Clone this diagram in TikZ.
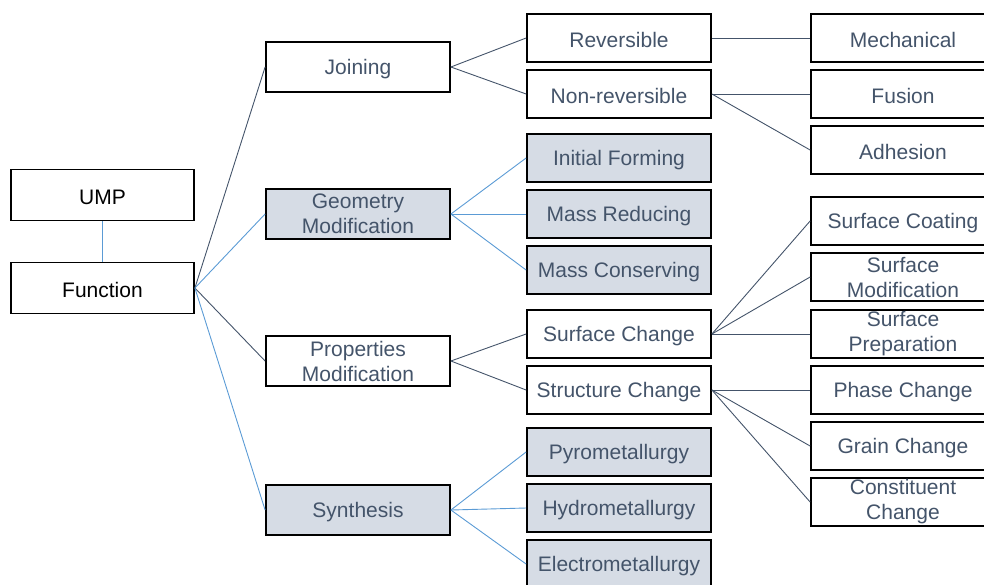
\documentclass[tikz,border=0pt]{standalone}
\usepackage{fontspec}
\setmainfont{Liberation Sans}
\definecolor{slate}{HTML}{44546A}
\definecolor{linkblue}{HTML}{5B9BD5}
\definecolor{boxgray}{HTML}{D6DCE5}
\begin{document}
\begin{tikzpicture}[x=1pt,y=-1pt,
  box/.style={draw=black, line width=1.8pt, fill=white, inner sep=0pt,
    minimum width=184pt, minimum height=48pt, align=center,
    text=slate, font=\fontsize{21}{25}\selectfont,
    execute at begin node={\rule{0pt}{20pt}}},
  shaded/.style={box, fill=boxgray},
  rootbox/.style={box, text=black, minimum width=183pt, minimum height=51pt},
  midbox/.style={minimum height=50pt},
  darklink/.style={draw=slate, line width=0.9pt},
  bluelink/.style={draw=linkblue, line width=0.9pt}]
\useasboundingbox (0,0) rectangle (984,584);
\clip (0,0) rectangle (984,584);

% root column
\node[rootbox] (ump) at (102.5,195) {UMP};
\node[rootbox] (func) at (102.5,288) {Function};

% first level
\node[box, midbox] (join) at (358,67) {Joining};
\node[shaded, midbox] (geom) at (358,214) {Geometry\\Modification};
\node[box, midbox] (prop) at (358,361) {Properties\\Modification};
\node[shaded, midbox] (synth) at (358,510) {Synthesis};

% second level
\node[box] (rev) at (619,38) {Reversible};
\node[box] (nonrev) at (619,94) {Non-reversible};
\node[shaded] (initf) at (619,158) {Initial Forming};
\node[shaded] (massr) at (619,214) {Mass Reducing};
\node[shaded] (massc) at (619,270) {Mass Conserving};
\node[box] (surfc) at (619,334) {Surface Change};
\node[box] (struc) at (619,390) {Structure Change};
\node[shaded] (pyro) at (619,452) {Pyrometallurgy};
\node[shaded] (hydro) at (619,508) {Hydrometallurgy};
\node[shaded] (electro) at (619,564) {Electrometallurgy};

% third level
\node[box] (mech) at (903,38) {Mechanical};
\node[box] (fusion) at (903,94) {Fusion};
\node[box] (adh) at (903,150) {Adhesion};
\node[box] (scoat) at (903,221) {Surface Coating};
\node[box] (smod) at (903,277) {Surface\\Modification};
\node[box] (sprep) at (903,334) {Surface\\Preparation};
\node[box] (phase) at (903,390) {Phase Change};
\node[box] (grain) at (903,446) {Grain Change};
\node[box] (const) at (903,502) {Constituent\\Change};

% connectors
\draw[bluelink] (ump.south) -- (func.north);
\draw[darklink] (func.east) -- (join.west);
\draw[bluelink] (func.east) -- (geom.west);
\draw[darklink] (func.east) -- (prop.west);
\draw[bluelink] (func.east) -- (synth.west);

\draw[darklink] (join.east) -- (rev.west);
\draw[darklink] (join.east) -- (nonrev.west);
\draw[bluelink] (geom.east) -- (initf.west);
\draw[bluelink] (geom.east) -- (massr.west);
\draw[bluelink] (geom.east) -- (massc.west);
\draw[darklink] (prop.east) -- (surfc.west);
\draw[darklink] (prop.east) -- (struc.west);
\draw[bluelink] (synth.east) -- (pyro.west);
\draw[bluelink] (synth.east) -- (hydro.west);
\draw[bluelink] (synth.east) -- (electro.west);

\draw[darklink] (rev.east) -- (mech.west);
\draw[darklink] (nonrev.east) -- (fusion.west);
\draw[darklink] (nonrev.east) -- (adh.west);
\draw[darklink] (surfc.east) -- (scoat.west);
\draw[darklink] (surfc.east) -- (smod.west);
\draw[darklink] (surfc.east) -- (sprep.west);
\draw[darklink] (struc.east) -- (phase.west);
\draw[darklink] (struc.east) -- (grain.west);
\draw[darklink] (struc.east) -- (const.west);
\end{tikzpicture}
\end{document}
